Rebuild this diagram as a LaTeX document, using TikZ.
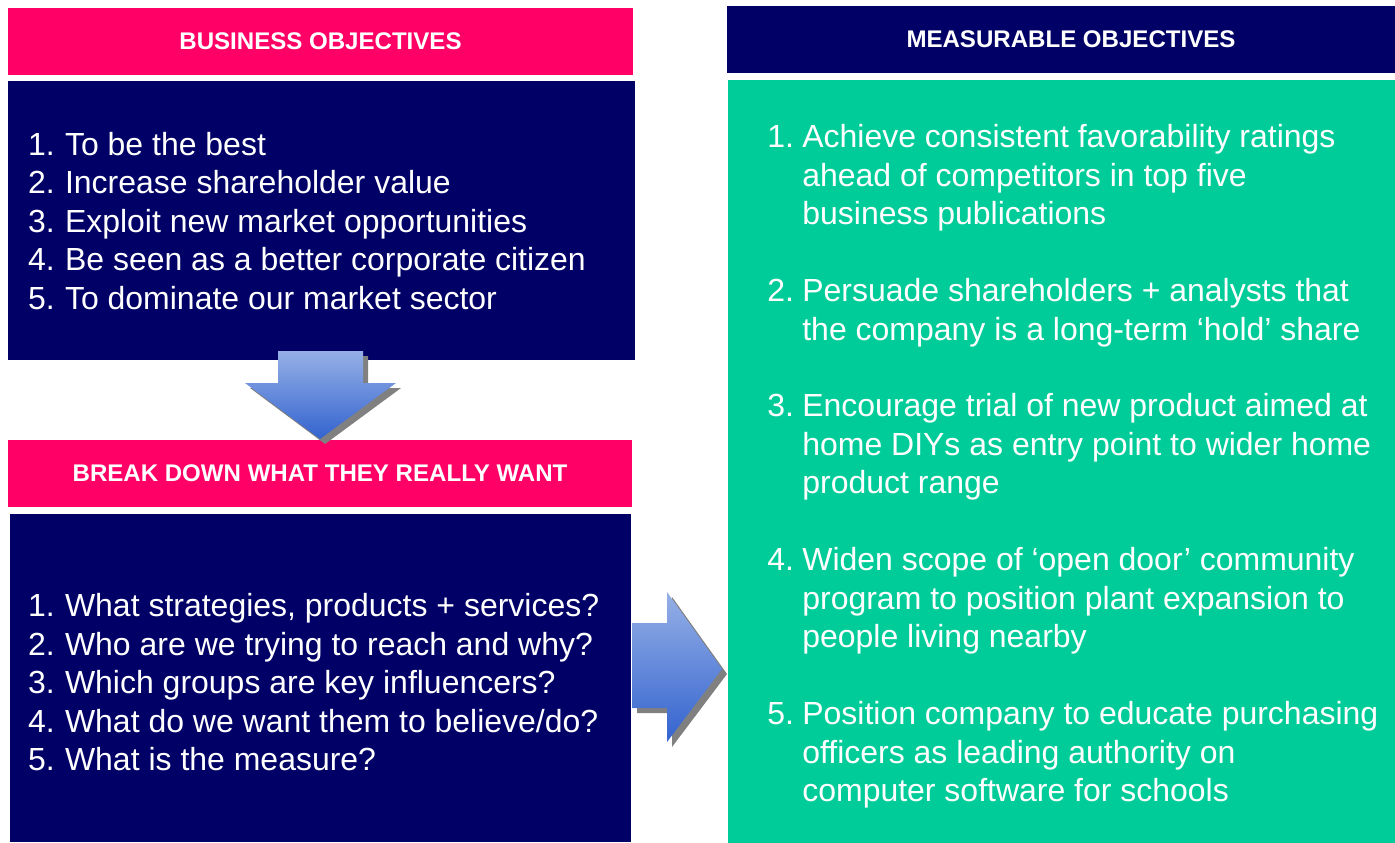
\documentclass[tikz,border=0pt]{standalone}
\usepackage{fontspec}
\setmainfont{Liberation Sans}
\usetikzlibrary{positioning}

\definecolor{hotpink}{HTML}{FF0066}
\definecolor{deepnavy}{HTML}{000066}
\definecolor{seagreen}{HTML}{00CC99}
\definecolor{arrowlight}{HTML}{96B0E6}
\definecolor{arrowdark}{HTML}{3363CF}

\tikzset{
  head/.style={rectangle, inner sep=0pt, text=white,
    font=\fontsize{13.7}{16}\selectfont\bfseries},
  panel/.style={rectangle, inner sep=0pt},
  listtext/.style={inner sep=0pt, text=white,
    font=\fontsize{18.2}{21.9}\selectfont},
  blockarrow/.style={top color=arrowlight, bottom color=arrowdark},
  arrowshadow/.style={fill=black!50},
}

\begin{document}
\begin{tikzpicture}[x=0.02cm, y=-0.02cm]
    \useasboundingbox (0,0) rectangle (1395,842);

    % left column
    \node[head, fill=hotpink, minimum width=12.5cm, minimum height=1.34cm] (bizhead) at (320.5,41.5) {BUSINESS OBJECTIVES};
    \node[panel, fill=deepnavy, minimum width=12.54cm, minimum height=5.58cm] (bizbox) at (321.5,220.5) {};
    \node[listtext, right=0.4cm of bizbox.west, yshift=-0.08cm] (bizlist) {%
      \begin{tabular}{@{}p{0.74cm}@{}l@{}}
        1. & To be the best\\
        2. & Increase shareholder value\\
        3. & Exploit new market opportunities\\
        4. & Be seen as a better corporate citizen\\
        5. & To dominate our market sector
      \end{tabular}};

    \node[head, fill=hotpink, minimum width=12.48cm, minimum height=1.34cm] (breakhead) at (320,473.5) {BREAK DOWN WHAT THEY REALLY WANT};
    \node[panel, fill=deepnavy, minimum width=12.42cm, minimum height=6.56cm] (breakbox) at (320.5,678) {};
    \node[listtext, right=0.36cm of breakbox.west, yshift=-0.16cm] (breaklist) {%
      \begin{tabular}{@{}p{0.74cm}@{}l@{}}
        1. & What strategies, products + services?\\
        2. & Who are we trying to reach and why?\\
        3. & Which groups are key influencers?\\
        4. & What do we want them to believe/do?\\
        5. & What is the measure?
      \end{tabular}};

    % right column
    \node[head, fill=deepnavy, minimum width=13.76cm, minimum height=1.34cm] (meashead) at (1071,39.5) {MEASURABLE OBJECTIVES};
    \node[panel, fill=seagreen, minimum width=13.74cm, minimum height=15.4cm] (measbox) at (1071.5,465) {};
    \node[listtext, anchor=west] (measlist) at (767,467) {%
      \begin{tabular}{@{}p{0.7cm}@{}l@{}}
        1. & Achieve consistent favorability ratings\\
           & ahead of competitors in top five\\
           & business publications\\[21.9pt]
        2. & Persuade shareholders + analysts that\\
           & the company is a long-term ‘hold’ share\\[21.9pt]
        3. & Encourage trial of new product aimed at\\
           & home DIYs as entry point to wider home\\
           & product range\\[21.9pt]
        4. & Widen scope of ‘open door’ community\\
           & program to position plant expansion to\\
           & people living nearby\\[21.9pt]
        5. & Position company to educate purchasing\\
           & officers as leading authority on\\
           & computer software for schools
      \end{tabular}};

    % block arrows
    \fill[arrowshadow] (283,356) -- (368,356) -- (368,388) -- (401,388) -- (325,444) -- (250,388) -- (283,388) -- cycle;
    \shade[blockarrow] (278,351) -- (363,351) -- (363,383) -- (396,383) -- (320,439) -- (245,383) -- (278,383) -- cycle;

    \fill[arrowshadow] (637,628) -- (672,628) -- (672,597) -- (727,674) -- (672,747) -- (672,713) -- (637,713) -- cycle;
    \shade[blockarrow] (632,623) -- (667,623) -- (667,592) -- (722,669) -- (667,742) -- (667,708) -- (632,708) -- cycle;
\end{tikzpicture}
\end{document}
